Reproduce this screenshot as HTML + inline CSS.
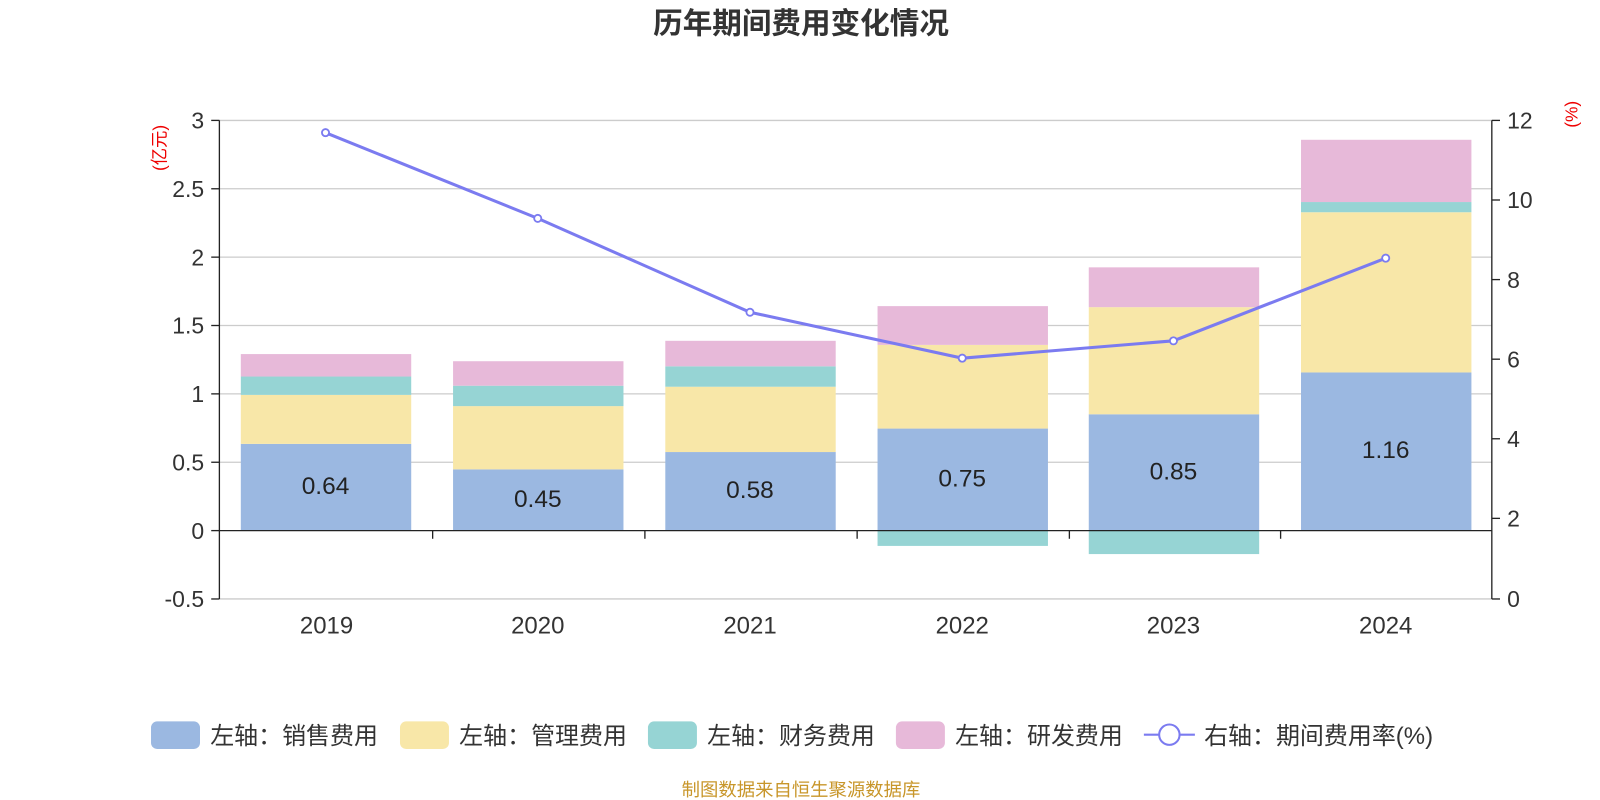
<!DOCTYPE html>
<html><head><meta charset="utf-8"><style>
html,body{margin:0;padding:0;background:#fff;}
svg{display:block;font-family:"Liberation Sans","Noto Sans CJK SC",sans-serif;}
</style></head><body>
<svg width="1600" height="800" viewBox="0 0 1600 800" xmlns="http://www.w3.org/2000/svg">
<g transform="scale(1.0204)">
<text x="785" y="33" text-anchor="middle" font-size="29" font-weight="bold" fill="#333">历年期间费用变化情况</text>
<g stroke="#ccc" stroke-width="1.3">
<line x1="215" y1="118" x2="1462" y2="118"/>
<line x1="215" y1="185" x2="1462" y2="185"/>
<line x1="215" y1="252" x2="1462" y2="252"/>
<line x1="215" y1="319" x2="1462" y2="319"/>
<line x1="215" y1="386" x2="1462" y2="386"/>
<line x1="215" y1="453" x2="1462" y2="453"/>
<line x1="215" y1="587" x2="1462" y2="587"/>
</g>
<g>
<rect x="236" y="435" width="167" height="85" fill="#9bb8e1"/>
<rect x="236" y="387" width="167" height="48" fill="#f8e7a8"/>
<rect x="236" y="369" width="167" height="18" fill="#96d4d4"/>
<rect x="236" y="347" width="167" height="22" fill="#e7b9d9"/>

<rect x="444" y="460" width="167" height="60" fill="#9bb8e1"/>
<rect x="444" y="398" width="167" height="62" fill="#f8e7a8"/>
<rect x="444" y="378" width="167" height="20" fill="#96d4d4"/>
<rect x="444" y="354" width="167" height="24" fill="#e7b9d9"/>

<rect x="652" y="443" width="167" height="77" fill="#9bb8e1"/>
<rect x="652" y="379" width="167" height="64" fill="#f8e7a8"/>
<rect x="652" y="359" width="167" height="20" fill="#96d4d4"/>
<rect x="652" y="334" width="167" height="25" fill="#e7b9d9"/>

<rect x="860" y="420" width="167" height="100" fill="#9bb8e1"/>
<rect x="860" y="338" width="167" height="82" fill="#f8e7a8"/>
<rect x="860" y="520" width="167" height="15" fill="#96d4d4"/>
<rect x="860" y="300" width="167" height="38" fill="#e7b9d9"/>

<rect x="1067" y="406" width="167" height="114" fill="#9bb8e1"/>
<rect x="1067" y="301" width="167" height="105" fill="#f8e7a8"/>
<rect x="1067" y="520" width="167" height="23" fill="#96d4d4"/>
<rect x="1067" y="262" width="167" height="39" fill="#e7b9d9"/>

<rect x="1275" y="365" width="167" height="155" fill="#9bb8e1"/>
<rect x="1275" y="208" width="167" height="157" fill="#f8e7a8"/>
<rect x="1275" y="198" width="167" height="10" fill="#96d4d4"/>
<rect x="1275" y="137" width="167" height="61" fill="#e7b9d9"/>
</g>
<g font-size="24" fill="#222" text-anchor="middle">
<text x="319" y="484">0.64</text>
<text x="527" y="497">0.45</text>
<text x="735" y="488">0.58</text>
<text x="943" y="477">0.75</text>
<text x="1150" y="470">0.85</text>
<text x="1358" y="449">1.16</text>
</g>
<g stroke="#222" stroke-width="1.3">
<line x1="215" y1="118" x2="215" y2="587"/>
<line x1="1462" y1="118" x2="1462" y2="587"/>
<line x1="215" y1="520" x2="1462" y2="520"/>
<line x1="207" y1="118" x2="215" y2="118"/><line x1="207" y1="185" x2="215" y2="185"/><line x1="207" y1="252" x2="215" y2="252"/><line x1="207" y1="319" x2="215" y2="319"/><line x1="207" y1="386" x2="215" y2="386"/><line x1="207" y1="453" x2="215" y2="453"/><line x1="207" y1="520" x2="215" y2="520"/><line x1="207" y1="587" x2="215" y2="587"/>
<line x1="1462" y1="118" x2="1470" y2="118"/><line x1="1462" y1="196" x2="1470" y2="196"/><line x1="1462" y1="274" x2="1470" y2="274"/><line x1="1462" y1="352" x2="1470" y2="352"/><line x1="1462" y1="430" x2="1470" y2="430"/><line x1="1462" y1="508" x2="1470" y2="508"/><line x1="1462" y1="587" x2="1470" y2="587"/>
<line x1="424" y1="520" x2="424" y2="528"/><line x1="632" y1="520" x2="632" y2="528"/><line x1="840" y1="520" x2="840" y2="528"/><line x1="1048" y1="520" x2="1048" y2="528"/><line x1="1255" y1="520" x2="1255" y2="528"/>
</g>
<g font-size="22.5" fill="#333" text-anchor="end">
<text x="200" y="126">3</text><text x="200" y="193">2.5</text><text x="200" y="260">2</text><text x="200" y="327">1.5</text><text x="200" y="394">1</text><text x="200" y="461">0.5</text><text x="200" y="528">0</text><text x="200" y="595">-0.5</text>
</g>
<g font-size="22.5" fill="#333" text-anchor="start">
<text x="1477" y="126">12</text><text x="1477" y="204">10</text><text x="1477" y="282">8</text><text x="1477" y="360">6</text><text x="1477" y="438">4</text><text x="1477" y="516">2</text><text x="1477" y="595">0</text>
</g>
<g font-size="23.5" fill="#333" text-anchor="middle">
<text x="320" y="621">2019</text><text x="527" y="621">2020</text><text x="735" y="621">2021</text><text x="943" y="621">2022</text><text x="1150" y="621">2023</text><text x="1358" y="621">2024</text>
</g>
<text transform="translate(162,145) rotate(-90)" font-size="17" fill="#e00" text-anchor="middle">(亿元)</text>
<text transform="translate(1546,112) rotate(-90)" font-size="17" fill="#e00" text-anchor="middle">(%)</text>
<polyline points="319,130 527,214 735,306 943,351 1150,334 1358,253" fill="none" stroke="#7b7bf0" stroke-width="3"/>
<g fill="#fff" stroke="#7b7bf0" stroke-width="1.8">
<circle cx="319" cy="130" r="3.5"/><circle cx="527" cy="214" r="3.5"/><circle cx="735" cy="306" r="3.5"/><circle cx="943" cy="351" r="3.5"/><circle cx="1150" cy="334" r="3.5"/><circle cx="1358" cy="253" r="3.5"/>
</g>
<g font-size="23.5" fill="#333">
<rect x="148" y="707" width="48" height="27" rx="6" fill="#9bb8e1"/><text x="206" y="729">左轴：销售费用</text>
<rect x="392" y="707" width="48" height="27" rx="6" fill="#f8e7a8"/><text x="450" y="729">左轴：管理费用</text>
<rect x="635" y="707" width="48" height="27" rx="6" fill="#96d4d4"/><text x="693" y="729">左轴：财务费用</text>
<rect x="878" y="707" width="48" height="27" rx="6" fill="#e7b9d9"/><text x="936" y="729">左轴：研发费用</text>
<line x1="1121" y1="720" x2="1171" y2="720" stroke="#7b7bf0" stroke-width="2"/>
<circle cx="1146" cy="720" r="10" fill="#fff" stroke="#7b7bf0" stroke-width="2"/>
<text x="1180" y="729">右轴：期间费用率(%)</text>
</g>
<text x="785" y="780" text-anchor="middle" font-size="18" fill="#c8962a">制图数据来自恒生聚源数据库</text>
</g>
</svg>
</body></html>
